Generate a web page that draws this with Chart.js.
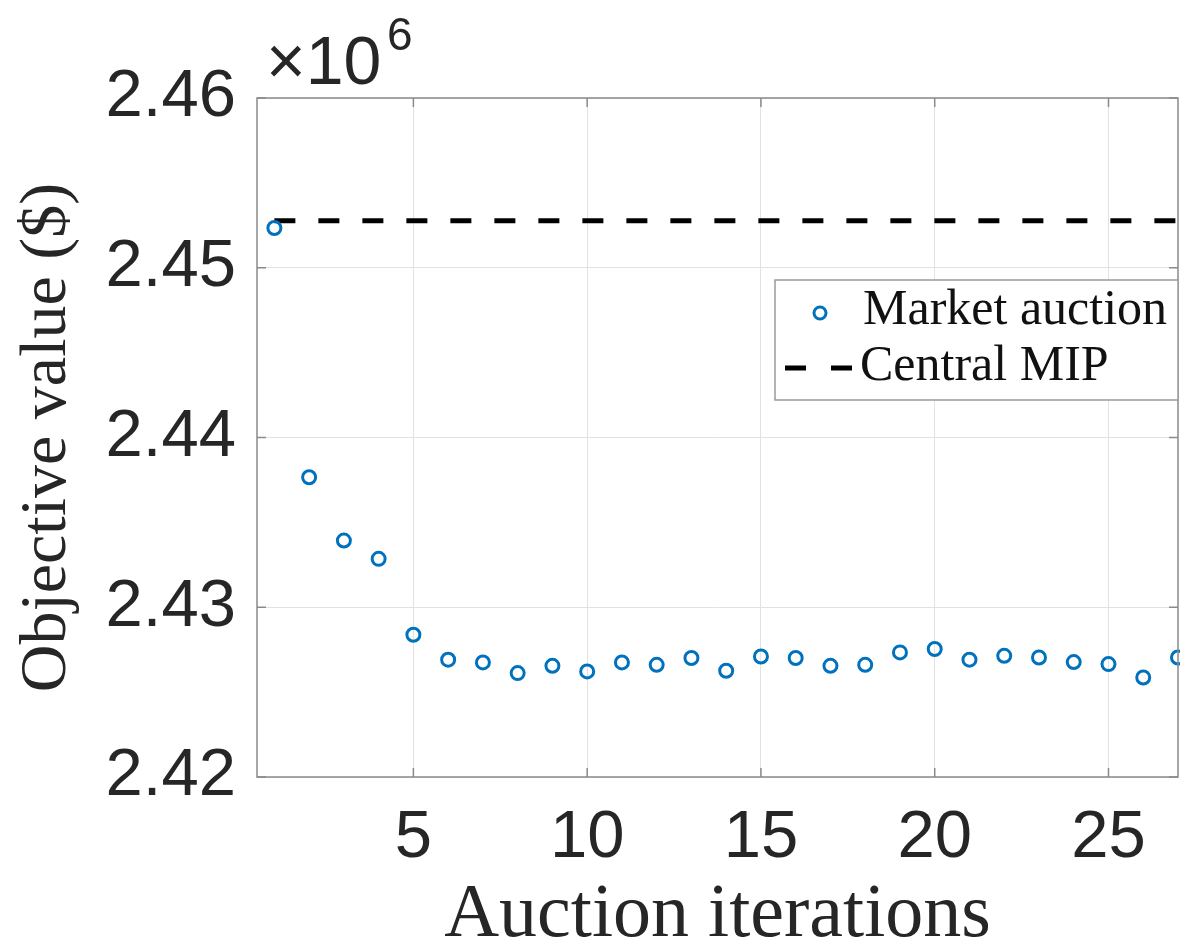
<!DOCTYPE html>
<html>
<head>
<meta charset="utf-8">
<script src="https://cdn.jsdelivr.net/npm/chart.js@4.4.1/dist/chart.umd.min.js"></script>
<style>
  body { margin: 0; background: #fff; }
  #wrap { width: 1180px; height: 943px; }
</style>
</head>
<body>
<div id="wrap"><canvas id="objChart" width="1180" height="943"></canvas></div>
<script>
// values (dollars)
const iterations = [1, 2, 3, 4, 5, 6, 7, 8, 9, 10, 11, 12, 13, 14, 15, 16, 17, 18, 19, 20, 21, 22, 23, 24, 25, 26, 27];
const auctionValues = [2452340, 2437660, 2433930, 2432850, 2428380, 2426910, 2426750, 2426120, 2426550, 2426220,
                       2426750, 2426610, 2427010, 2426260, 2427100, 2427010, 2426550, 2426610, 2427340, 2427540,
                       2426910, 2427140, 2427040, 2426770, 2426650, 2425860, 2427040];
const centralMip = 2452770;
const mipRange = [1, 27];
const xTicks = [5, 10, 15, 20, 25];
const yTicks = [2420000, 2430000, 2440000, 2450000, 2460000];

const axisColor = '#8a8a8a';
const textColor = '#262626';
const blue = '#0072BD';

// MATLAB-like box, inner tick marks, exponent and legend
const matlabDecor = {
  id: 'matlabDecor',
  afterDatasetsDraw(chart) {
    const {ctx, chartArea: a, scales: {x, y}} = chart;
    ctx.save();
    ctx.strokeStyle = axisColor;
    ctx.lineWidth = 1.5;
    ctx.strokeRect(a.left, a.top, a.right - a.left, a.bottom - a.top);
    ctx.beginPath();
    xTicks.forEach(v => {
      const px = x.getPixelForValue(v);
      ctx.moveTo(px, a.bottom); ctx.lineTo(px, a.bottom - 9);
      ctx.moveTo(px, a.top); ctx.lineTo(px, a.top + 9);
    });
    yTicks.forEach(v => {
      const py = y.getPixelForValue(v);
      ctx.moveTo(a.left, py); ctx.lineTo(a.left + 9, py);
      ctx.moveTo(a.right, py); ctx.lineTo(a.right - 9, py);
    });
    ctx.stroke();

    // x10^6 multiplier
    ctx.fillStyle = textColor;
    ctx.textBaseline = 'alphabetic';
    ctx.textAlign = 'left';
    ctx.font = '68px "Liberation Sans"';
    ctx.fillText('\u00d710', a.left + 9, 84);
    ctx.font = '46px "Liberation Sans"';
    ctx.fillText('6', a.left + 130, 50);

    // legend
    const lx = 775, ly = 280, lw = a.right - lx, lh = 120;
    ctx.fillStyle = '#fff';
    ctx.fillRect(lx, ly, lw, lh);
    ctx.strokeStyle = '#9a9a9a';
    ctx.lineWidth = 1.5;
    ctx.strokeRect(lx, ly, lw, lh);

    const ds = chart.data.datasets;
    ctx.beginPath();
    ctx.arc(lx + 45, ly + 33, 6, 0, Math.PI * 2);
    ctx.strokeStyle = ds[0].borderColor;
    ctx.lineWidth = ds[0].borderWidth;
    ctx.stroke();

    ctx.beginPath();
    ctx.setLineDash([21, 25]);
    ctx.moveTo(lx + 10, ly + 88);
    ctx.lineTo(lx + 77, ly + 88);
    ctx.strokeStyle = ds[1].borderColor;
    ctx.lineWidth = ds[1].borderWidth;
    ctx.stroke();
    ctx.setLineDash([]);

    ctx.fillStyle = '#111';
    ctx.font = '50px "Liberation Serif"';
    ctx.fillText(ds[0].label, lx + 88, ly + 44);
    ctx.fillText(ds[1].label, lx + 85, ly + 100);
    ctx.restore();
  }
};

new Chart(document.getElementById('objChart'), {
  type: 'scatter',
  data: {
    datasets: [{
      label: 'Market auction',
      data: iterations.map((it, i) => ({x: it, y: auctionValues[i]})),
      borderColor: blue,
      backgroundColor: 'rgba(0,0,0,0)',
      borderWidth: 3,
      pointRadius: 6.5,
      clip: false
    }, {
      type: 'line',
      label: 'Central MIP',
      data: mipRange.map(it => ({x: it, y: centralMip})),
      borderColor: '#000',
      borderWidth: 5,
      borderDash: [21, 23],
      pointRadius: 0,
      fill: false
    }]
  },
  options: {
    responsive: false,
    animation: false,
    layout: {autoPadding: false, padding: {top: 98, right: 2, left: 0, bottom: 0}},
    plugins: {
      legend: {display: false},
      tooltip: {enabled: false}
    },
    scales: {
      x: {
        type: 'linear',
        min: 0.5,
        max: 27,
        afterBuildTicks: s => { s.ticks = xTicks.map(v => ({value: v})); },
        afterFit: s => { s.height = 166; s.paddingLeft = 0; s.paddingRight = 0; },
        grid: {color: '#e2e2e2', lineWidth: 1, drawTicks: false},
        border: {display: false},
        ticks: {
          padding: 28,
          color: textColor,
          font: {family: 'Liberation Sans', size: 67, lineHeight: 1}
        },
        title: {
          display: true,
          text: 'Auction iterations',
          color: textColor,
          font: {family: 'Liberation Serif', size: 76, lineHeight: 0.8},
          padding: {top: 0, bottom: -3}
        }
      },
      y: {
        min: 2420000,
        max: 2460000,
        afterBuildTicks: s => { s.ticks = yTicks.map(v => ({value: v})); },
        afterFit: s => { s.width = 257; s.paddingTop = 0; s.paddingBottom = 0; },
        grid: {color: '#e2e2e2', lineWidth: 1, drawTicks: false},
        border: {display: false},
        ticks: {
          padding: 21,
          color: textColor,
          font: {family: 'Liberation Sans', size: 67, lineHeight: 1},
          callback: v => (v / 1e6).toFixed(2)
        },
        title: {
          display: true,
          text: 'Objective value ($)',
          color: textColor,
          font: {family: 'Liberation Serif', size: 66, lineHeight: 1},
          padding: {top: 15, bottom: 0}
        }
      }
    }
  },
  plugins: [matlabDecor]
});
</script>
</body>
</html>
